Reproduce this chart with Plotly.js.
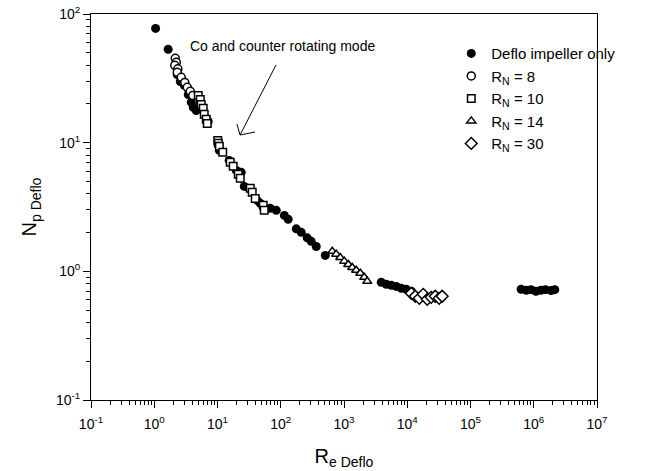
<!DOCTYPE html>
<html>
<head>
<meta charset="utf-8">
<script src="https://cdn.plot.ly/plotly-3.0.1.min.js"></script>
<style>html,body{margin:0;padding:0;background:#fff;}#chart{width:662px;height:471px;}</style>
</head>
<body>
<div id="chart"></div>
<script>
// Deflo impeller only (filled circles)
const defloX = [1.05, 1.66, 2.31, 2.58, 2.98, 3.45, 3.85, 4.14, 4.61, 7.14,
  10.7, 11.5, 15.3, 19.8, 23.7, 26.5, 31.8, 42.5, 47.4, 68.2, 84.9, 114, 131, 176, 211, 262, 303, 364, 506,
  3880, 4660, 5590, 6700, 8040, 9640, 11600,
  632000, 765000, 904000, 1080000, 1290000, 1530000, 1880000, 2150000];
const defloY = [77.3, 53.1, 33.9, 29.9, 27.9, 23.7, 20.6, 18.8, 17.8, 14.6,
  8.71, 8.56, 7.28, 6.09, 5.88, 4.57, 4.41, 3.56, 3.38, 3.09, 2.98, 2.72, 2.54, 2.14, 2.01, 1.82, 1.71, 1.56, 1.33,
  0.822, 0.793, 0.778, 0.764, 0.738, 0.725, 0.70,
  0.725, 0.712, 0.72, 0.70, 0.712, 0.72, 0.71, 0.72];

// R_N = 8 (open circles)
const rn8X = [2.15, 2.23, 2.11, 2.36, 2.31, 2.67, 3.04, 3.33, 3.71, 4.06];
const rn8Y = [45.2, 42.1, 39.9, 37.5, 35.2, 32.2, 29.4, 26.9, 25.1, 23.3];

// R_N = 10 (open squares)
const rn10X = [4.96, 5.34, 5.53, 5.95, 6.17, 6.64, 6.89, 10.1, 10.3, 10.7, 12.1, 15.9, 17.7, 21.3, 22.9, 33.0, 35.4, 39.5, 52.9, 54.8];
const rn10Y = [23.3, 21.7, 19.8, 18.5, 16.6, 15.2, 14.1, 10.4, 9.88, 9.36, 8.41, 7.03, 6.55, 5.68, 5.28, 4.42, 4.11, 3.69, 3.26, 2.98];

// R_N = 14 (open triangles)
const rn14X = [652, 754, 873, 1010, 1170, 1350, 1560, 1810, 2090, 2330];
const rn14Y = [1.43, 1.36, 1.28, 1.20, 1.13, 1.07, 1.02, 0.965, 0.898, 0.836];

// R_N = 30 (open diamonds)
const rn30X = [11600, 13400, 15500, 17900, 20700, 23900, 27700, 32000, 35700];
const rn30Y = [0.675, 0.64, 0.617, 0.663, 0.606, 0.628, 0.64, 0.617, 0.64];

const seriesNames = ['Deflo impeller only', 'R<sub>N</sub> = 8', 'R<sub>N</sub> = 10', 'R<sub>N</sub> = 14', 'R<sub>N</sub> = 30'];

const xTickVals = [0.1, 1, 10, 100, 1000, 10000, 100000, 1000000, 10000000];
const xTickText = ['10<sup>-1</sup>', '10<sup>0</sup>', '10<sup>1</sup>', '10<sup>2</sup>', '10<sup>3</sup>', '10<sup>4</sup>', '10<sup>5</sup>', '10<sup>6</sup>', '10<sup>7</sup>'];
const yTickVals = [0.1, 1, 10, 100];
const yTickText = ['10<sup>-1</sup>', '10<sup>0</sup>', '10<sup>1</sup>', '10<sup>2</sup>'];

const annotationText = 'Co and counter rotating mode';

function minorVals(lo, hi) {
  const v = [];
  for (let d = lo; d < hi; d++) for (let k = 2; k <= 9; k++) v.push(k * Math.pow(10, d));
  return v;
}

const FONT = 'Liberation Sans, Arial, sans-serif';
const openMarker = (symbol, size) => ({symbol: symbol, size: size, color: 'white', line: {color: 'black', width: 1.5}});

const traces = [
  {x: defloX, y: defloY, name: seriesNames[0], mode: 'markers', type: 'scatter',
   marker: {symbol: 'circle', size: 9, color: 'black', line: {width: 0}}},
  {x: rn8X, y: rn8Y, name: seriesNames[1], mode: 'markers', type: 'scatter', marker: openMarker('circle', 8)},
  {x: rn10X, y: rn10Y, name: seriesNames[2], mode: 'markers', type: 'scatter', marker: openMarker('square', 7.5)},
  {x: rn14X, y: rn14Y, name: seriesNames[3], mode: 'markers', type: 'scatter', marker: openMarker('triangle-up', 8)},
  {x: rn30X, y: rn30Y, name: seriesNames[4], mode: 'markers', type: 'scatter', marker: openMarker('diamond', 9)}
];

const axisCommon = {
  type: 'log', showgrid: false, zeroline: false, showline: true, mirror: true,
  linecolor: 'black', linewidth: 1, ticks: 'outside', ticklen: 7, tickwidth: 1, tickcolor: 'black',
  tickmode: 'array', tickfont: {family: FONT, size: 14, color: 'black'}
};

const layout = {
  width: 662, height: 471,
  margin: {l: 91, r: 65, t: 14, b: 71, pad: 0},
  paper_bgcolor: 'white', plot_bgcolor: 'white',
  font: {family: FONT, color: 'black'},
  showlegend: true,
  legend: {x: 0.712, y: 0.94, xanchor: 'left', yanchor: 'top', bgcolor: 'rgba(0,0,0,0)',
           font: {family: FONT, size: 15, color: 'black'}, tracegroupgap: 0},
  xaxis: Object.assign({}, axisCommon, {
    range: [-1, 7], tickvals: xTickVals, ticktext: xTickText, ticklabelstandoff: 4,
    minor: {tickmode: 'array', tickvals: minorVals(-1, 7), ticks: 'outside', ticklen: 4, tickwidth: 1, tickcolor: 'black', showgrid: false},
    title: {text: 'R<sub>e Deflo</sub>', font: {family: FONT, size: 20, color: 'black'}, standoff: 18}
  }),
  yaxis: Object.assign({}, axisCommon, {
    range: [-1, 2], tickvals: yTickVals, ticktext: yTickText,
    minor: {tickmode: 'array', tickvals: minorVals(-1, 2), ticks: 'outside', ticklen: 4, tickwidth: 1, tickcolor: 'black', showgrid: false},
    title: {text: 'N<sub>p Deflo</sub>', font: {family: FONT, size: 20, color: 'black'}, standoff: 13}
  }),
  annotations: [
    {xref: 'paper', yref: 'paper', x: 0.379, y: 0.917, text: annotationText, showarrow: false,
     xanchor: 'center', yanchor: 'middle', font: {family: FONT, size: 14, color: 'black'}}
  ],
  shapes: [
    {type: 'line', xref: 'paper', yref: 'paper', x0: 0.3656, y0: 0.8679, x1: 0.2945, y1: 0.6865, line: {color: 'black', width: 1}},
    {type: 'line', xref: 'paper', yref: 'paper', x0: 0.2945, y0: 0.6865, x1: 0.2885, y1: 0.715, line: {color: 'black', width: 1}},
    {type: 'line', xref: 'paper', yref: 'paper', x0: 0.2945, y0: 0.6865, x1: 0.3241, y1: 0.6943, line: {color: 'black', width: 1}}
  ]
};

Plotly.newPlot('chart', traces, layout, {displayModeBar: false, staticPlot: true});
</script>
</body>
</html>
